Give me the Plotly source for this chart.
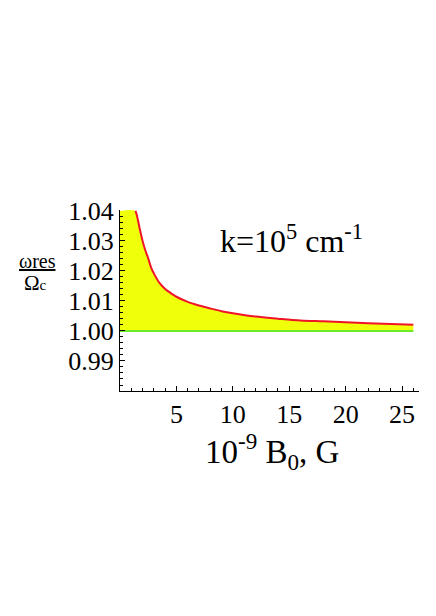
import plotly.graph_objects as go

# Data
B_curve = [1.37, 1.5, 1.75, 2, 2.25, 2.5, 2.75, 3, 3.5, 4, 4.5, 5, 6, 7, 8, 9, 10,
           12, 14, 16, 18, 20, 22, 24, 26]
w_curve = [1.0400, 1.0385, 1.0340, 1.0300, 1.0268, 1.0242, 1.0212, 1.0192, 1.0160, 1.0140,
           1.0126, 1.0114, 1.0097, 1.0085, 1.0075, 1.0066, 1.0059, 1.0048, 1.0041, 1.0035,
           1.0032, 1.0029, 1.0026, 1.0023, 1.0021]
B_start = 0
w_top = 1.04
w_base = 1.00
x_tickvals = [5, 10, 15, 20, 25]
y_tickvals = [0.99, 1.00, 1.01, 1.02, 1.03, 1.04]
y_ticktext = ["0.99", "1.00", "1.01", "1.02", "1.03", "1.04"]

FONT = "Liberation Serif, Times New Roman, serif"
fill_x = [B_start] + B_curve
fill_y = [w_top] + w_curve

fig = go.Figure()
fig.add_trace(go.Scatter(x=[B_start, B_curve[-1]], y=[w_base, w_base], mode="lines",
                         line=dict(width=0), showlegend=False, hoverinfo="skip"))
fig.add_trace(go.Scatter(x=fill_x, y=fill_y, mode="lines", line=dict(width=0), line_shape="spline",
                         fill="tonexty", fillcolor="rgb(240,255,10)", showlegend=False))
fig.add_trace(go.Scatter(x=B_curve, y=w_curve, mode="lines", line_shape="spline",
                         line=dict(color="rgb(240,20,40)", width=2), showlegend=False))
fig.add_trace(go.Scatter(x=[B_start, B_curve[-1]], y=[w_base, w_base], mode="lines",
                         line=dict(color="rgb(110,235,40)", width=2), showlegend=False))

tickfont = dict(size=26, family=FONT, color="black")
fig.update_layout(
    width=436, height=616,
    margin=dict(l=120, r=17, t=210, b=225),
    paper_bgcolor="white", plot_bgcolor="white",
    font=dict(family=FONT, color="black", size=26),
    xaxis=dict(range=[0, 26.5], showgrid=False, zeroline=False, showline=True,
               linecolor="black", linewidth=1, ticks="inside", ticklen=5, tickcolor="black",
               tickvals=x_tickvals, tickfont=tickfont,
               minor=dict(dtick=1, ticks="inside", ticklen=3, tickcolor="black")),
    yaxis=dict(range=[0.98, 1.0403], showgrid=False, zeroline=False, showline=True,
               linecolor="black", linewidth=1, ticks="inside", ticklen=5, tickcolor="black",
               tickvals=y_tickvals, ticktext=y_ticktext, tickfont=tickfont,
               minor=dict(dtick=0.002, ticks="inside", ticklen=3, tickcolor="black")),
    annotations=[
        dict(text="k=10<sup>5</sup> cm<sup>-1</sup>", xref="paper", yref="paper",
             x=0.575, y=0.838, showarrow=False, font=dict(size=32, family=FONT),
             xanchor="center", yanchor="middle"),
        dict(text="10<sup>-9</sup> B<sub>0</sub>, G", xref="paper", yref="paper",
             x=(272 - 120) / 299, y=(391 - 451) / 181, showarrow=False,
             font=dict(size=33, family=FONT), xanchor="center", yanchor="middle"),
        dict(text="<u>ωres</u>", xref="paper", yref="paper",
             x=(37.5 - 120) / 299, y=(391 - 261) / 181, showarrow=False,
             font=dict(size=20, family=FONT), xanchor="center", yanchor="middle"),
        dict(text="Ω<span style='font-size:15px'>c</span>", xref="paper", yref="paper",
             x=(35.5 - 120) / 299, y=(391 - 283) / 181, showarrow=False,
             font=dict(size=21, family=FONT), xanchor="center", yanchor="middle"),
    ],
)

fig.write_html("out.html", config={"displayModeBar": False},
               post_script="document.body.style.margin='0';")
